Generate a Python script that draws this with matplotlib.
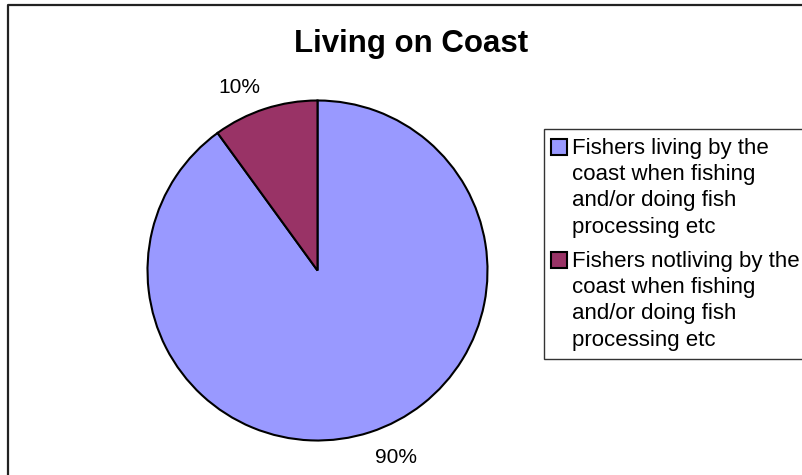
import numpy as np
import matplotlib
matplotlib.use("Agg")
import matplotlib.pyplot as plt
from matplotlib.patches import Patch, Rectangle
from matplotlib.lines import Line2D
from matplotlib.legend_handler import HandlerBase

title = "Living on Coast"
categories = [
    "Fishers living by the\ncoast when fishing\nand/or doing fish\nprocessing etc",
    "Fishers notliving by the\ncoast when fishing\nand/or doing fish\nprocessing etc",
]
values = [90, 10]
colors = ["#9999FF", "#993366"]

plt.rcParams['font.family'] = ['Liberation Sans', 'DejaVu Sans']

W, H = 802, 475
PX = 0.72  # points per pixel at dpi 100
fig = plt.figure(figsize=(W / 100, H / 100), dpi=100)

# outer chart border (left and top visible)
fig.add_artist(Line2D([8 / W, 8 / W, 1.0], [0.0, 1 - 5 / H, 1 - 5 / H],
                      transform=fig.transFigure, color="#222222", lw=1.6))

cx, cy, r = 317.5, 270.5, 170
ax = fig.add_axes([(cx - r) / W, (H - cy - r) / H, 2 * r / W, 2 * r / H])
ax.axis('off')

wedges, texts, autotexts = ax.pie(
    values, colors=colors, startangle=90, counterclock=False, radius=1,
    autopct='%1.0f%%', pctdistance=1.18,
    wedgeprops=dict(edgecolor='black', linewidth=1.5),
    textprops=dict(fontsize=15, color='black'))
ax.set_xlim(-1, 1)
ax.set_ylim(-1, 1)
ax.set_aspect('equal')
for w, t in zip(wedges, autotexts):
    w.set_clip_on(False)
    t.set_clip_on(False)
    ang = np.deg2rad((w.theta1 + w.theta2) / 2 + 5)
    t.set_position((1.18 * np.cos(ang), 1.18 * np.sin(ang)))
    t.set_ha('center')
    t.set_va('center_baseline')

fig.text(411 / W, 1 - 44 / H, title, ha='center', va='center',
         fontsize=22.5, fontweight='bold')


class TopSquare(HandlerBase):
    def create_artists(self, legend, orig_handle, xdescent, ydescent,
                       width, height, fontsize, trans):
        s = 16 * PX
        x0 = -xdescent - 1.5 * PX
        yc = -ydescent + height / 2 + 41 * PX
        p = Rectangle((x0, yc - s / 2), s, s,
                      facecolor=orig_handle.get_facecolor(),
                      edgecolor='black', linewidth=1.5, transform=trans)
        return [p]


handles = [Patch(facecolor=c, edgecolor='black') for c in colors]
leg = fig.legend(handles, categories, loc='upper left',
                 bbox_to_anchor=(544 / W, 1 - 129 / H),
                 bbox_transform=fig.transFigure,
                 handler_map={Patch: TopSquare()},
                 frameon=True, fancybox=False, edgecolor='black',
                 fontsize=16, handlelength=0.63, handleheight=0.7,
                 handletextpad=0.245, borderpad=0.39, labelspacing=0.6,
                 borderaxespad=0)
leg.get_frame().set_linewidth(1.0)
for t in leg.get_texts():
    t.set_linespacing(1.33)

fig.savefig("out.png", dpi=100)
